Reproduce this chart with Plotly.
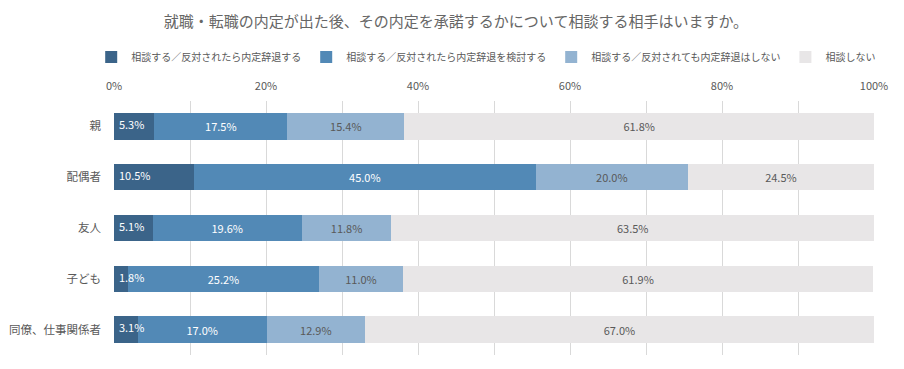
import plotly.graph_objects as go

title = "就職・転職の内定が出た後、その内定を承諾するかについて相談する相手はいますか。"
categories = ["親", "配偶者", "友人", "子ども", "同僚、仕事関係者"]
series_names = [
    "相談する／反対されたら内定辞退する",
    "相談する／反対されたら内定辞退を検討する",
    "相談する／反対されても内定辞退はしない",
    "相談しない",
]
values = [
    [5.3, 10.5, 5.1, 1.8, 3.1],
    [17.5, 45.0, 19.6, 25.2, 17.0],
    [15.4, 20.0, 11.8, 11.0, 12.9],
    [61.8, 24.5, 63.5, 61.9, 67.0],
]
colors = ["#3b6489", "#5289b6", "#93b3d1", "#e8e6e7"]
text_colors = ["#ffffff", "#ffffff", "#595959", "#595959"]
tick_vals = [0, 20, 40, 60, 80, 100]
tick_text = ["0%", "20%", "40%", "60%", "80%", "100%"]

font = "Noto Sans CJK JP"
fig = go.Figure()
for i, (name, vals, c, tc) in enumerate(zip(series_names, values, colors, text_colors)):
    fig.add_trace(go.Bar(
        y=categories, x=vals, name=name, orientation="h",
        marker=dict(color=c, line=dict(width=0)),
        text=None if i == 0 else [f"{v:.1f}%" for v in vals],
        textposition="none" if i == 0 else "inside",
        insidetextanchor="middle", constraintext="none", textangle=0,
        textfont=dict(color=tc, size=11, family=font),
    ))

# labels of the first series, anchored at the axis start (drawn on top)
fig.add_trace(go.Scatter(
    y=categories, x=[0] * len(categories), mode="text",
    text=[f"  {v:.1f}%" for v in values[0]], textposition="middle right",
    textfont=dict(color="#ffffff", size=11, family=font),
    showlegend=False, hoverinfo="skip", cliponaxis=False,
))

W, H = 896, 361  # page adds an 8px body margin
T, B = 93, 14
fig.update_layout(
    barmode="stack", bargap=0.48,
    width=W, height=H,
    margin=dict(l=106, r=30, t=T, b=B, autoexpand=False),
    plot_bgcolor="white", paper_bgcolor="white",
    font=dict(family=font, color="#595959", size=11),
    title=dict(text=title, x=0.5, xref="container", xanchor="center",
               y=1 - 14 / H, yref="container", yanchor="middle",
               font=dict(size=15, color="#666666", family=font)),
    legend=dict(orientation="h", x=-0.03, xanchor="left",
                y=1 + (T - 49) / (H - T - B), yanchor="middle",
                font=dict(size=10, color="#595959"), traceorder="normal",
                itemwidth=30, itemclick=False, tracegroupgap=0),
    showlegend=True,
)
fig.update_xaxes(
    side="top", range=[0, 100], tickvals=tick_vals, ticktext=tick_text,
    showgrid=True, gridcolor="#d9d9d9", gridwidth=1,
    minor=dict(dtick=10, showgrid=True, gridcolor="#d9d9d9"),
    zeroline=False, showline=False, ticks="", ticklabelstandoff=8,
    tickfont=dict(size=11, color="#595959"),
    fixedrange=True, automargin=False,
)
fig.update_yaxes(
    autorange="reversed", showgrid=False, ticks="", ticklen=0, ticklabelstandoff=12,
    tickfont=dict(size=11.5, color="#595959"), fixedrange=True, automargin=False,
)
fig.write_html("out.html")
